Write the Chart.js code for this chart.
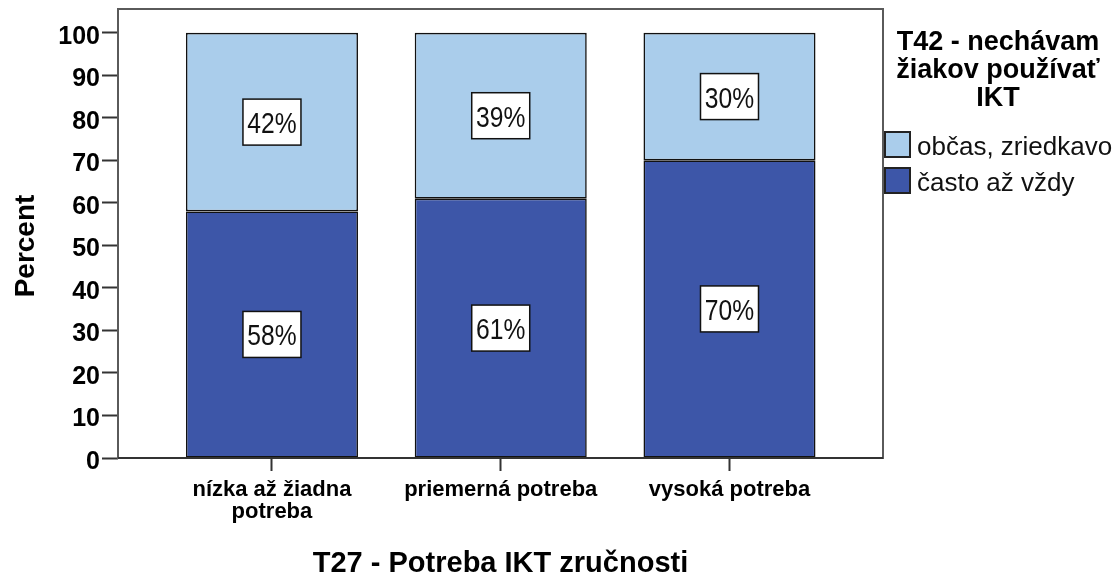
<!DOCTYPE html>
<html>
<head>
<meta charset="utf-8">
<script src="https://cdn.jsdelivr.net/npm/chart.js@4.4.1/dist/chart.umd.min.js"></script>
<style>
  body { margin: 0; background: #fff; }
</style>
</head>
<body>
<canvas id="mycanvas" width="1118" height="581"></canvas>
<script>
var categories = [['nízka až žiadna', 'potreba'], ['priemerná potreba'], ['vysoká potreba']];
var castoValues = [58, 61, 70];
var obcasValues = [42, 39, 30];
var yTicks = [0, 10, 20, 30, 40, 50, 60, 70, 80, 90, 100];
var seriesNames = ['občas, zriedkavo', 'často až vždy'];
var legendTitle = ['T42 - nechávam', 'žiakov používať', 'IKT'];
var xTitle = 'T27 - Potreba IKT zručnosti';
var yTitle = 'Percent';

var FONT = '"Liberation Sans", Arial, sans-serif';
var LIGHT = '#aacdeb';
var DARK = '#3d56a8';

function points(vals) {
  var out = [];
  for (var i in vals) out.push({x: Number(i), y: vals[i]});
  return out;
}

// frame, value boxes, axis titles, legend
var extras = {
  id: 'extras',
  afterDatasetsDraw: function(chart) {
    var ctx = chart.ctx;
    var a = chart.chartArea;
    ctx.save();
    ctx.strokeStyle = '#5a5a5a';
    ctx.lineWidth = 2;
    ctx.strokeRect(a.left, a.top, a.right - a.left, a.bottom - a.top);
    ctx.strokeStyle = '#333';
    ctx.beginPath();
    ctx.moveTo(a.left, a.bottom);
    ctx.lineTo(a.right, a.bottom);
    ctx.stroke();

    // value labels
    ctx.textAlign = 'center';
    ctx.textBaseline = 'alphabetic';
    chart.data.datasets.forEach(function(ds, di) {
      chart.getDatasetMeta(di).data.forEach(function(bar, i) {
        var txt = ds.data[i].y + '%';
        var cy = (bar.y + bar.base) / 2;
        var w = 58, h = 46;
        ctx.fillStyle = '#fff';
        ctx.fillRect(bar.x - w / 2, cy - h / 2, w, h);
        ctx.strokeStyle = '#111';
        ctx.lineWidth = 1.5;
        ctx.strokeRect(bar.x - w / 2, cy - h / 2, w, h);
        ctx.save();
        ctx.translate(bar.x, cy + 11);
        ctx.scale(0.85, 1);
        ctx.font = '29px ' + FONT;
        ctx.fillStyle = '#111';
        ctx.fillText(txt, 0, 0);
        ctx.restore();
      });
    });

    // axis titles
    ctx.fillStyle = '#000';
    ctx.font = 'bold 29px ' + FONT;
    ctx.fillText(xTitle, (a.left + a.right) / 2, 572);
    ctx.save();
    ctx.translate(34, 246);
    ctx.rotate(-Math.PI / 2);
    ctx.font = 'bold 28px ' + FONT;
    ctx.fillText(yTitle, 0, 0);
    ctx.restore();

    // legend
    ctx.font = 'bold 27px ' + FONT;
    var ly = [50, 78, 106];
    legendTitle.forEach(function(t, i) { ctx.fillText(t, 998, ly[i]); });
    var colors = [LIGHT, DARK];
    ctx.textAlign = 'left';
    ctx.font = '26px ' + FONT;
    seriesNames.forEach(function(name, i) {
      var by = 132 + i * 36;
      ctx.fillStyle = colors[i];
      ctx.fillRect(885, by, 25, 25);
      ctx.strokeStyle = '#222';
      ctx.lineWidth = 2;
      ctx.strokeRect(885, by, 25, 25);
      ctx.fillStyle = '#111';
      ctx.fillText(name, 917, by + 23);
    });
    ctx.restore();
  }
};

var ctx = document.getElementById('mycanvas');
var barGraph = new Chart(ctx, {
  type: 'bar',
  data: {
    datasets: [
      {
        label: seriesNames[1],
        backgroundColor: DARK,
        borderColor: '#111',
        borderWidth: 1.6,
        borderSkipped: false,
        data: points(castoValues)
      },
      {
        label: seriesNames[0],
        backgroundColor: LIGHT,
        borderColor: '#111',
        borderWidth: 1.6,
        borderSkipped: false,
        data: points(obcasValues)
      }
    ]
  },
  options: {
    responsive: false,
    animation: false,
    layout: { padding: { top: 9, right: 235, left: 0, bottom: 0 } },
    datasets: { bar: { barPercentage: 0.752, categoryPercentage: 1 } },
    plugins: { legend: { display: false }, tooltip: { enabled: false } },
    scales: {
      x: {
        type: 'linear',
        stacked: true,
        offset: false,
        min: -0.673,
        max: 2.671,
        afterFit: function(scale) {
          scale.height = 123;
          scale.paddingLeft = 0;
          scale.paddingRight = 0;
        },
        afterBuildTicks: function(scale) {
          scale.ticks = categories.map(function(c, i) { return {value: i}; });
        },
        border: { display: false },
        grid: { offset: false, drawOnChartArea: false, tickLength: 13, tickWidth: 2, color: '#333' },
        ticks: {
          padding: 8,
          color: '#000',
          maxRotation: 0,
          autoSkip: false,
          font: { family: FONT, size: 22, weight: 'bold', lineHeight: 1.0 },
          callback: function(v) { return categories[v]; }
        }
      },
      y: {
        stacked: true,
        min: 0,
        max: 105.6,
        afterFit: function(scale) {
          scale.width = 118;
          scale.paddingTop = 0;
          scale.paddingBottom = 0;
        },
        afterBuildTicks: function(scale) {
          scale.ticks = yTicks.map(function(v) { return {value: v}; });
        },
        border: { display: false },
        grid: { drawOnChartArea: false, tickLength: 16, tickWidth: 2, color: '#333' },
        ticks: {
          padding: 2,
          labelOffset: 4,
          color: '#000',
          font: { family: FONT, size: 25, weight: 'bold' }
        }
      }
    }
  },
  plugins: [extras]
});
</script>
</body>
</html>
